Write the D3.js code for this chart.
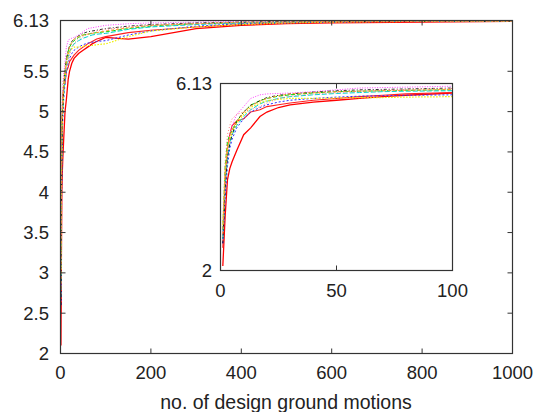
<!DOCTYPE html>
<html>
<head>
<meta charset="utf-8">
<script src="https://cdn.jsdelivr.net/npm/d3@7"></script>
<style>
	body { margin: 0; background: white; }
	text { font-family: 'Liberation Sans', Arial, sans-serif; fill: #222; }
</style>
</head>
<body>
<div class="chart"></div>
<script>
// number of design ground motions (shared x samples)
const xs = [1,2,3,4,5,7,10,13,17,20,25,30,40,50,60,70,80,100,150,200,300,400,500,600,800,1000]

// one array per run
const red1    = [2.1,3.2,4.0,4.25,4.4,4.65,5.0,5.15,5.4,5.5,5.6,5.66,5.72,5.76,5.8,5.84,5.87,5.92,5.9,5.93,6.03,6.07,6.09,6.1,6.11,6.12]
const red2    = [2.5,4.0,4.7,5.0,5.2,5.3,5.35,5.5,5.55,5.62,5.66,5.7,5.76,5.8,5.84,5.87,5.9,5.93,5.98,6.01,6.05,6.08,6.1,6.11,6.12,6.12]
const green   = [2.9,4.3,4.85,5.0,5.1,5.3,5.5,5.65,5.75,5.8,5.85,5.88,5.92,5.95,5.96,5.97,5.98,5.99,6.03,6.06,6.09,6.1,6.11,6.12,6.12,6.12]
const blue    = [2.6,3.6,4.3,4.7,4.9,5.15,5.35,5.5,5.6,5.66,5.72,5.76,5.8,5.83,5.85,5.86,5.87,5.88,5.95,6.0,6.06,6.09,6.1,6.11,6.12,6.12]
const magenta = [2.8,3.9,4.6,5.0,5.2,5.45,5.62,5.8,5.88,5.9,5.91,5.92,5.95,5.99,6.03,6.04,6.05,6.07,6.09,6.1,6.11,6.12,6.12,6.12,6.12,6.12]
const cyan    = [2.7,3.9,4.5,4.8,5.0,5.2,5.4,5.55,5.68,5.74,5.8,5.84,5.88,5.91,5.93,5.95,5.96,5.97,6.02,6.05,6.08,6.1,6.11,6.12,6.12,6.12]
const yellow  = [3.0,4.2,4.7,4.9,5.05,5.25,5.45,5.6,5.7,5.75,5.78,5.8,5.8,5.81,5.82,5.82,5.83,5.84,5.93,6.0,6.05,6.08,6.1,6.11,6.12,6.12]
const black   = [2.6,3.8,4.5,4.8,5.0,5.3,5.5,5.65,5.75,5.82,5.87,5.9,5.94,5.97,5.99,6.0,6.01,6.03,6.06,6.08,6.1,6.11,6.12,6.12,6.12,6.12]
const orange  = [2.8,4.1,4.7,4.95,5.1,5.3,5.5,5.63,5.74,5.8,5.86,5.9,5.93,5.95,5.96,5.97,5.98,6.0,6.04,6.07,6.09,6.11,6.11,6.12,6.12,6.12]
const salmon  = [3.1,4.4,5.0,5.2,5.35,5.45,5.5,5.55,5.62,5.7,5.8,5.85,5.9,5.93,5.96,5.98,6.0,6.02,6.05,6.07,6.09,6.1,6.11,6.12,6.12,6.12]

const mainYTicks = [2, 2.5, 3, 3.5, 4, 4.5, 5, 5.5, 6.13]
const mainXTicks = [0, 200, 400, 600, 800, 1000]
const insetYTicks = [2, 6.13]
const insetXTicks = [0, 50, 100]
const xLabel = 'no. of design ground motions'

const series = [
	{ name: 'red1', values: red1, color: '#ff0000', dash: null, w: 1.3 },
	{ name: 'red2', values: red2, color: '#ff2020', dash: null, w: 1.1 },
	{ name: 'green', values: green, color: '#00e000', dash: '4,2', w: 1 },
	{ name: 'blue', values: blue, color: '#3030ff', dash: '2,2', w: 1 },
	{ name: 'magenta', values: magenta, color: '#ff40ff', dash: '1,1.5', w: 1 },
	{ name: 'cyan', values: cyan, color: '#00d0d0', dash: '5,2', w: 1 },
	{ name: 'yellow', values: yellow, color: '#f0f000', dash: '1.5,1.5', w: 1.2 },
	{ name: 'black', values: black, color: '#000000', dash: '3,2,1,2', w: 0.8 },
	{ name: 'orange', values: orange, color: '#ff9a30', dash: '3,2', w: 1 },
	{ name: 'salmon', values: salmon, color: '#ff8080', dash: '1,2', w: 1 },
]

const width = 540
const height = 412
const svg = d3.select('.chart')
	.append('svg')
	.attr('width', width)
	.attr('height', height)

// draws a framed panel with inward ticks on all four sides
function panel(g, x, y, xTicks, yTicks, tick) {
	const [x0, x1] = x.range()
	const [y0, y1] = y.range()
	g.append('rect')
		.attr('x', x0).attr('y', y1)
		.attr('width', x1 - x0).attr('height', y0 - y1)
		.attr('fill', 'white')

	// lines, clipped at frame
	const id = 'clip' + Math.round(x0)
	g.append('clipPath').attr('id', id)
		.append('rect')
		.attr('x', x0).attr('y', y1)
		.attr('width', x1 - x0).attr('height', y0 - y1)
	const line = d3.line()
		.x((d, i) => x(xs[i]))
		.y(d => y(d))
		.defined((d, i) => xs[i] <= x.domain()[1])
	g.append('g').attr('clip-path', `url(#${id})`)
		.selectAll('path')
		.data(series)
		.enter()
		.append('path')
		.attr('d', d => line(d.values))
		.attr('fill', 'none')
		.attr('stroke', d => d.color)
		.attr('stroke-width', d => d.w)
		.attr('stroke-dasharray', d => d.dash)

	// ticks
	g.selectAll('line.xt')
		.data(xTicks)
		.enter()
		.append('path')
		.attr('d', d => `M${x(d)},${y0}v${-tick}M${x(d)},${y1}v${tick}`)
		.attr('stroke', '#333')
	g.selectAll('line.yt')
		.data(yTicks)
		.enter()
		.append('path')
		.attr('d', d => `M${x0},${y(d)}h${tick}M${x1},${y(d)}h${-tick}`)
		.attr('stroke', '#333')

	// frame
	g.append('rect')
		.attr('x', x0).attr('y', y1)
		.attr('width', x1 - x0).attr('height', y0 - y1)
		.attr('fill', 'none')
		.attr('stroke', '#333')
		.attr('stroke-width', 1.2)
}

// main plot
const x = d3.scaleLinear().domain([0, 1000]).range([60.5, 512.5])
const y = d3.scaleLinear().domain([2, 6.13]).range([353.5, 20.5])
const main = svg.append('g')
panel(main, x, y, mainXTicks, mainYTicks, 5)

main.selectAll('text.yl')
	.data(mainYTicks)
	.enter()
	.append('text')
	.text(d => d)
	.attr('x', 49)
	.attr('y', d => y(d) + 6.5)
	.attr('text-anchor', 'end')
	.attr('font-size', '18.5px')
main.selectAll('text.xl')
	.data(mainXTicks)
	.enter()
	.append('text')
	.text(d => d)
	.attr('x', d => x(d))
	.attr('y', 379)
	.attr('text-anchor', 'middle')
	.attr('font-size', '18.5px')
main.append('text')
	.text(xLabel)
	.attr('x', 286)
	.attr('y', 409)
	.attr('text-anchor', 'middle')
	.attr('font-size', '19.5px')

// inset, first 100 motions
const xi = d3.scaleLinear().domain([0, 100]).range([220.5, 452.5])
const yi = d3.scaleLinear().domain([2, 6.13]).range([270.5, 83.5])
const inset = svg.append('g')
panel(inset, xi, yi, insetXTicks, insetYTicks, 5)

inset.selectAll('text.yl')
	.data(insetYTicks)
	.enter()
	.append('text')
	.text(d => d)
	.attr('x', 212)
	.attr('y', d => yi(d) + 6.5)
	.attr('text-anchor', 'end')
	.attr('font-size', '18.5px')
inset.selectAll('text.xl')
	.data(insetXTicks)
	.enter()
	.append('text')
	.text(d => d)
	.attr('x', d => xi(d))
	.attr('y', 297)
	.attr('text-anchor', 'middle')
	.attr('font-size', '18.5px')
</script>
</body>
</html>
